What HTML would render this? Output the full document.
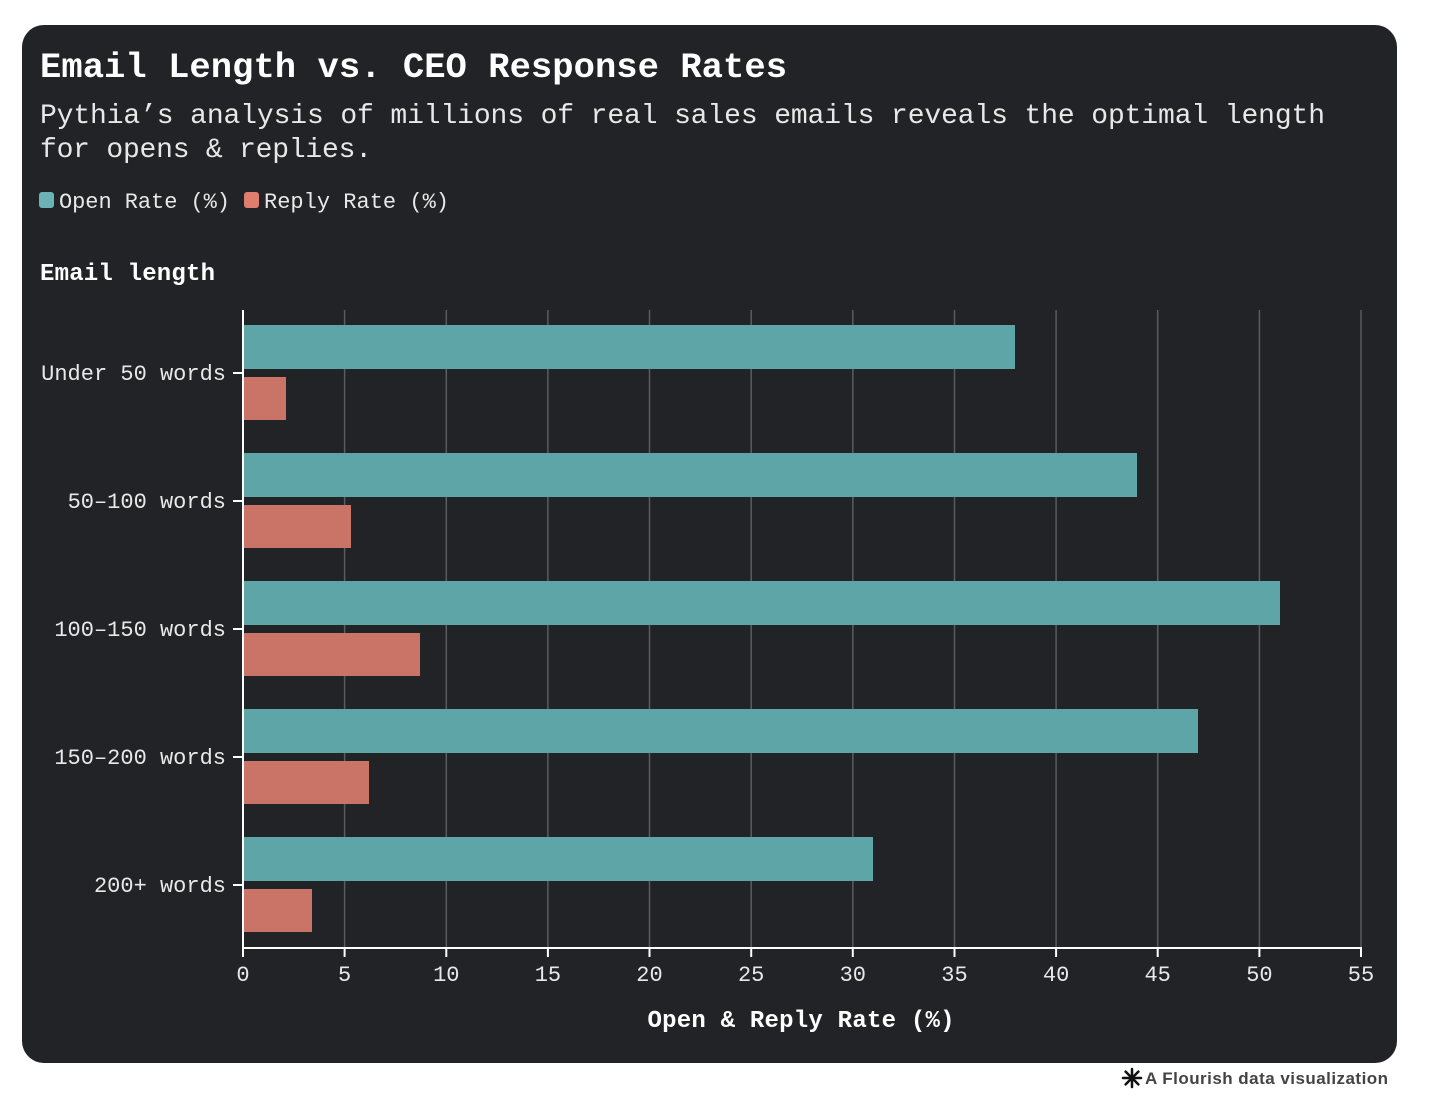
<!DOCTYPE html>
<html><head><style>
html,body{margin:0;padding:0;background:#fff;}
svg{display:block;}
text{font-family:"Liberation Mono",monospace;}
</style></head><body>
<svg width="1440" height="1117" viewBox="0 0 1440 1117" xmlns="http://www.w3.org/2000/svg">
<rect x="0" y="0" width="1440" height="1117" fill="#fff"/>
<rect x="22" y="25" width="1375" height="1038" rx="22" fill="#222326"/>
<text x="40" y="77" fill="#fff" font-size="35.5" font-weight="bold" textLength="747">Email Length vs. CEO Response Rates</text>
<text x="40" y="123" fill="#e8e8e8" font-size="28" textLength="1285">Pythia’s analysis of millions of real sales emails reveals the optimal length</text>
<text x="40" y="157" fill="#e8e8e8" font-size="28" textLength="332">for opens &amp; replies.</text>
<rect x="39" y="192" width="15" height="16" rx="3" fill="#6bb3b4"/>
<text x="59" y="208" fill="#e8e8e8" font-size="22" textLength="171">Open Rate (%)</text>
<rect x="244" y="192" width="15" height="16" rx="3" fill="#e07e6e"/>
<text x="264" y="208" fill="#e8e8e8" font-size="22" textLength="185">Reply Rate (%)</text>
<text x="40" y="280" fill="#fff" font-size="24" font-weight="bold" textLength="175">Email length</text>
<g stroke="#5a5b5e" stroke-width="1.5">
<line x1="344.6" y1="310" x2="344.6" y2="948"/><line x1="446.3" y1="310" x2="446.3" y2="948"/>
<line x1="547.9" y1="310" x2="547.9" y2="948"/><line x1="649.5" y1="310" x2="649.5" y2="948"/>
<line x1="751.2" y1="310" x2="751.2" y2="948"/><line x1="852.8" y1="310" x2="852.8" y2="948"/>
<line x1="954.5" y1="310" x2="954.5" y2="948"/><line x1="1056.1" y1="310" x2="1056.1" y2="948"/>
<line x1="1157.7" y1="310" x2="1157.7" y2="948"/><line x1="1259.4" y1="310" x2="1259.4" y2="948"/>
<line x1="1361" y1="310" x2="1361" y2="948"/>
</g>
<g fill="#5ea5a7">
<rect x="243" y="325" width="772" height="44"/>
<rect x="243" y="453" width="894" height="44"/>
<rect x="243" y="581" width="1037" height="44"/>
<rect x="243" y="709" width="955" height="44"/>
<rect x="243" y="837" width="630" height="44"/>
</g>
<g fill="#c97466">
<rect x="243" y="377" width="43" height="43"/>
<rect x="243" y="505" width="108" height="43"/>
<rect x="243" y="633" width="177" height="43"/>
<rect x="243" y="761" width="126" height="43"/>
<rect x="243" y="889" width="69" height="43"/>
</g>
<g stroke="#fff" stroke-width="2">
<line x1="243" y1="310" x2="243" y2="949"/>
<line x1="242" y1="948" x2="1362" y2="948"/>
<line x1="233" y1="373" x2="243" y2="373"/><line x1="233" y1="501" x2="243" y2="501"/>
<line x1="233" y1="629" x2="243" y2="629"/><line x1="233" y1="757" x2="243" y2="757"/>
<line x1="233" y1="885" x2="243" y2="885"/>
<line x1="243" y1="948" x2="243" y2="957"/><line x1="344.6" y1="948" x2="344.6" y2="957"/>
<line x1="446.3" y1="948" x2="446.3" y2="957"/><line x1="547.9" y1="948" x2="547.9" y2="957"/>
<line x1="649.5" y1="948" x2="649.5" y2="957"/><line x1="751.2" y1="948" x2="751.2" y2="957"/>
<line x1="852.8" y1="948" x2="852.8" y2="957"/><line x1="954.5" y1="948" x2="954.5" y2="957"/>
<line x1="1056.1" y1="948" x2="1056.1" y2="957"/><line x1="1157.7" y1="948" x2="1157.7" y2="957"/>
<line x1="1259.4" y1="948" x2="1259.4" y2="957"/><line x1="1361" y1="948" x2="1361" y2="957"/>
</g>
<g fill="#e8e8e8" font-size="22" text-anchor="end">
<text x="226" y="380">Under 50 words</text>
<text x="226" y="508">50–100 words</text>
<text x="226" y="636">100–150 words</text>
<text x="226" y="764">150–200 words</text>
<text x="226" y="892">200+ words</text>
</g>
<g fill="#e8e8e8" font-size="22" text-anchor="middle">
<text x="243" y="981">0</text><text x="344.6" y="981">5</text><text x="446.3" y="981">10</text>
<text x="547.9" y="981">15</text><text x="649.5" y="981">20</text><text x="751.2" y="981">25</text>
<text x="852.8" y="981">30</text><text x="954.5" y="981">35</text><text x="1056.1" y="981">40</text>
<text x="1157.7" y="981">45</text><text x="1259.4" y="981">50</text><text x="1361" y="981">55</text>
</g>
<text x="801" y="1027" fill="#fff" font-size="24" font-weight="bold" text-anchor="middle" textLength="307">Open &amp; Reply Rate (%)</text>
<g stroke="#111" stroke-width="2.5" stroke-linecap="round">
<line x1="1132" y1="1069" x2="1132" y2="1087"/>
<line x1="1123" y1="1078" x2="1141" y2="1078"/>
<line x1="1125.6" y1="1071.6" x2="1138.4" y2="1084.4"/>
<line x1="1125.6" y1="1084.4" x2="1138.4" y2="1071.6"/>
</g>
<text x="1145" y="1084" fill="#444" font-size="17" font-weight="bold" style="font-family:'Liberation Sans',sans-serif" textLength="243">A Flourish data visualization</text>
</svg>
</body></html>
